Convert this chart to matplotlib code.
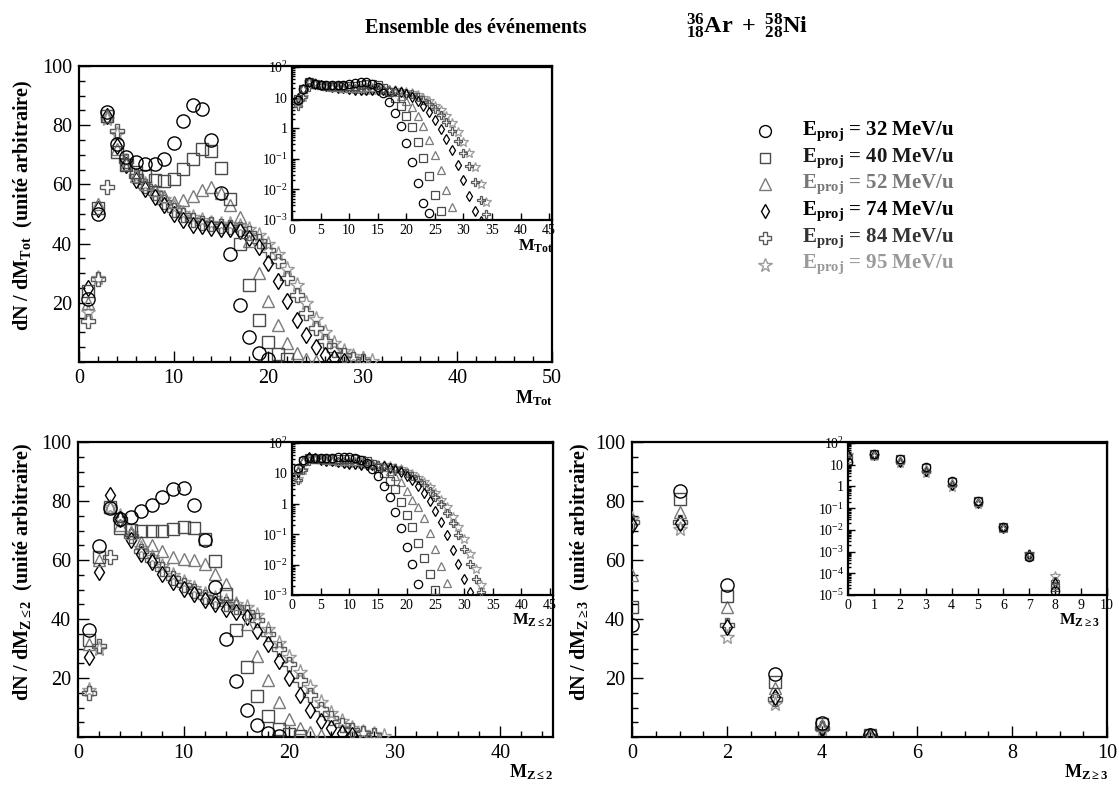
import matplotlib
matplotlib.use("Agg")
import matplotlib.pyplot as plt
from matplotlib.lines import Line2D
from matplotlib.ticker import MultipleLocator, FixedLocator, FixedFormatter, LogLocator, NullFormatter
import numpy as np

plt.rcParams['font.family'] = ['Liberation Serif', 'DejaVu Serif']
plt.rcParams['mathtext.fontset'] = 'custom'
plt.rcParams['mathtext.rm'] = 'Liberation Serif'
plt.rcParams['mathtext.bf'] = 'Liberation Serif:bold'
plt.rcParams['mathtext.it'] = 'Liberation Serif:italic'

# ---------------- data ----------------
energies = ["32", "40", "52", "74", "84", "95"]

# Panel 1 : M_Tot (M = 1, 2, ...)
tot_32 = [21.3, 50.0, 84.4, 73.6, 69.3, 67.7, 66.8, 66.8, 68.5, 74.1, 81.4, 86.8, 85.4, 75.1, 57.1, 36.4,
          19.4, 8.3, 3.2, 0.85, 0.2, 0.043, 0.0095, 0.0045]
tot_40 = [24, 52, 83, 71, 66.6, 64.1, 62.7, 61.5, 61.0, 61.9, 65.1, 68.6, 71.9, 71.3, 65.5, 55, 39.8, 26.1,
          14.3, 6.7, 2.8, 0.92, 0.28, 0.07, 0.017, 0.0053]
tot_52 = [20, 53.4, 83, 72, 67, 63, 60, 58, 56, 54, 54.6, 56, 58, 59, 57, 53, 49, 41, 30, 20.5, 12.5, 6.5,
          3.0, 1.1, 0.35, 0.11, 0.026, 0.007]
tot_74 = [25, 51.7, 83, 73, 66.6, 61.5, 58.5, 55.9, 53.1, 50, 48, 46.3, 45.8, 45.2, 45, 45, 44.1, 42, 38.7,
          33.4, 27.4, 20.7, 14.3, 9.2, 5.0, 2.5, 1.2, 0.5, 0.17, 0.055, 0.016, 0.005, 0.0025]
tot_84 = [14, 28, 59, 78, 68, 63, 59.5, 57, 54, 51.5, 49.5, 48, 47, 46.5, 46, 45.5, 45, 43.5, 41, 38, 34,
          28.5, 22.5, 16.5, 11.5, 7.2, 4.2, 2.2, 1.0, 0.42, 0.15, 0.045, 0.012, 0.004]
tot_95 = [17, 28.5, 82, 77, 68, 63, 60, 57.5, 55, 52.5, 50.5, 49, 48, 47, 46.5, 46.5, 46, 45, 43, 40, 36.5,
          31.5, 26, 20, 14.5, 10, 6.5, 3.8, 2.0, 0.95, 0.4, 0.14, 0.04, 0.01]

# Panel 2 : M_{Z<=2} (M = 1, 2, ...)
z2_32 = [36.2, 64.6, 77.7, 74, 74.6, 76.5, 78.5, 81.4, 84.2, 84.4, 78.5, 66.9, 50.8, 33.3, 19, 9, 4, 1.3,
         0.37, 0.088, 0.024, 0.0055]
z2_40 = [33, 61, 78, 71, 70.3, 70, 69.8, 70, 70.4, 71.2, 71, 67.2, 59.7, 48.6, 36.2, 23.7, 13.8, 7.2, 2.8,
         1.0, 0.4, 0.12, 0.04, 0.012, 0.0035]
z2_52 = [31.6, 60, 78, 72, 69, 66, 65, 63, 61, 60.5, 60.1, 58.8, 55.4, 52, 45.2, 38.4, 27.5, 19.2, 12, 6.2,
         3.2, 1.8, 0.8, 0.27, 0.08, 0.022, 0.006]
z2_74 = [27.1, 55.9, 81.9, 74, 66.9, 61.9, 59.3, 55.4, 52.5, 50.3, 48.4, 46.3, 45.2, 43.5, 42.4, 40.7, 36.1,
         31.5, 25.8, 20, 14.1, 9.2, 5.5, 2.9, 1.4, 0.6, 0.22, 0.07, 0.025, 0.008, 0.003]
z2_84 = [15, 31, 61, 74, 68, 63, 60, 57, 54, 51.5, 49.5, 47.5, 46, 45, 44, 42.5, 39.5, 35, 30, 24.9, 19.4,
         14.1, 9.6, 6.5, 4, 2.3, 1.2, 0.55, 0.22, 0.08, 0.025, 0.008, 0.003]
z2_95 = [16, 30, 78, 75, 69, 64, 61, 58, 55, 52.5, 50.5, 48.5, 47, 46, 45, 44, 41.5, 36.5, 32, 27, 22, 17,
         12, 8.3, 5.3, 3.2, 1.8, 0.9, 0.4, 0.16, 0.055, 0.017, 0.005]

# Panel 3 : M_{Z>=3} (M = 0, 1, ...)
z3_32 = [38, 83.5, 51.5, 21.5, 4.8, 0.6, 0.036, 0.0016, 0.00004]
z3_40 = [44, 80.8, 47.7, 18.6, 4.3, 0.55, 0.035, 0.0017, 0.00006]
z3_52 = [55, 76.3, 44.1, 16.5, 3.9, 0.5, 0.034, 0.0018, 0.00008]
z3_74 = [72, 72.5, 37.3, 13.6, 3.2, 0.45, 0.032, 0.0019, 0.0001]
z3_84 = [73, 73, 37.8, 13, 3.1, 0.45, 0.033, 0.002, 0.00012]
z3_95 = [74, 70.6, 34, 11.3, 2.6, 0.42, 0.034, 0.0022, 0.0002]

# scale between main-panel units and inset units
inset_scale = [0.38, 0.42, 0.37]
# smallest value drawn in the linear main panels
main_ymin = 0.3

# ---------------- styles ----------------
markers = ['o', 's', '^', 'd', 'P', '*']
colors = ['#000000', '#4a4a4a', '#7a7a7a', '#000000', '#5a5a5a', '#9a9a9a']
text_colors = ['#000000', '#1a1a1a', '#777777', '#000000', '#333333', '#999999']
msize_main = [9.5, 8.5, 9.0, 8.0, 9.5, 11.0]
msize_in = [6.0, 5.5, 5.8, 5.5, 6.0, 7.0]

W, H = 1119, 792
fig = plt.figure(figsize=(W / 100, H / 100), dpi=100)


def box(l, t, r, b):
    return [l / W, 1 - b / H, (r - l) / W, (b - t) / H]


def style_axes(ax, labelsize, major_len, minor_len, lw=1.6):
    for s in ax.spines.values():
        s.set_linewidth(lw)
    ax.tick_params(which='both', direction='in', top=False, right=False, width=1.0)
    ax.tick_params(which='major', length=major_len, labelsize=labelsize, pad=5)
    ax.tick_params(which='minor', length=minor_len)


def draw_main(ax, xs_list, ys_list, xlim, xmajor, xminor):
    for i, (xs, ys) in enumerate(zip(xs_list, ys_list)):
        xs = np.asarray(xs)
        ys = np.asarray(ys)
        keep = ys >= main_ymin
        ax.plot(xs[keep], ys[keep], linestyle='none', marker=markers[i], mfc='none', mec=colors[i],
                ms=msize_main[i], mew=1.0, zorder=3 + (5 - i) * 0.1)
    ax.set_xlim(*xlim)
    ax.set_ylim(0, 100)
    ax.xaxis.set_major_locator(MultipleLocator(xmajor))
    ax.xaxis.set_minor_locator(MultipleLocator(xminor))
    ax.yaxis.set_major_locator(FixedLocator([20, 40, 60, 80, 100]))
    ax.yaxis.set_minor_locator(MultipleLocator(5))
    style_axes(ax, 14.5, 8, 4)


def draw_inset(ax, xs_list, ys_list, scale, xlim, ylow, xmajor):
    ax.set_facecolor('white')
    for i, (xs, ys) in enumerate(zip(xs_list, ys_list)):
        ax.plot(xs, np.asarray(ys) * scale, linestyle='none', marker=markers[i], mfc='none',
                mec=colors[i], ms=msize_in[i], mew=0.9, zorder=3 + (5 - i) * 0.1)
    ax.set_yscale('log')
    ax.set_xlim(*xlim)
    ax.set_ylim(10.0 ** ylow, 100)
    exps = list(range(ylow, 3))
    labs = []
    for e in exps:
        if e == 0:
            labs.append('1')
        elif e == 1:
            labs.append('10')
        else:
            labs.append(r'$\mathregular{10^{%d}}$' % e)
    ax.yaxis.set_major_locator(FixedLocator([10.0 ** e for e in exps]))
    ax.yaxis.set_major_formatter(FixedFormatter(labs))
    ax.yaxis.set_minor_locator(LogLocator(base=10, subs=np.arange(2, 10), numticks=20))
    ax.yaxis.set_minor_formatter(NullFormatter())
    ax.xaxis.set_major_locator(MultipleLocator(xmajor))
    style_axes(ax, 10, 5, 2.5, lw=1.6)
    ax.tick_params(which='major', pad=3)


series_tot = [tot_32, tot_40, tot_52, tot_74, tot_84, tot_95]
series_z2 = [z2_32, z2_40, z2_52, z2_74, z2_84, z2_95]
series_z3 = [z3_32, z3_40, z3_52, z3_74, z3_84, z3_95]
x_tot = [np.arange(1, len(s) + 1) for s in series_tot]
x_z2 = [np.arange(1, len(s) + 1) for s in series_z2]
x_z3 = [np.arange(0, len(s)) for s in series_z3]

# ---- panel 1
ax1 = fig.add_axes(box(79, 66, 552, 362))
draw_main(ax1, x_tot, series_tot, (0, 50), 10, 2)
ax1i = fig.add_axes(box(292, 67, 552, 220))
draw_inset(ax1i, x_tot, series_tot, inset_scale[0], (0, 45.5), -3, 5)

# ---- panel 2
ax2 = fig.add_axes(box(78, 442, 553, 737))
draw_main(ax2, x_z2, series_z2, (0, 45), 10, 2)
ax2i = fig.add_axes(box(292, 443, 553, 595))
draw_inset(ax2i, x_z2, series_z2, inset_scale[1], (0, 45.5), -3, 5)

# ---- panel 3
ax3 = fig.add_axes(box(632, 442, 1107, 737))
draw_main(ax3, x_z3, series_z3, (0, 10), 2, 0.5)
ax3i = fig.add_axes(box(848, 443, 1107, 595))
draw_inset(ax3i, x_z3, series_z3, inset_scale[2], (0, 10), -5, 1)

# ---- axis labels
ylab_kw = dict(rotation=90, ha='center', va='center', fontsize=14.5, fontweight='bold')
fig.text(23 / W, 1 - 205 / H, r'dN / dM$_{\mathbf{Tot}}$  (unité arbitraire)', **ylab_kw)
fig.text(23 / W, 1 - 572 / H, r'dN / dM$_{\mathbf{Z\leq2}}$  (unité arbitraire)', **ylab_kw)
fig.text(580 / W, 1 - 572 / H, r'dN / dM$_{\mathbf{Z\geq3}}$  (unité arbitraire)', **ylab_kw)

xlab_kw = dict(ha='right', va='top', fontsize=13, fontweight='bold')
fig.text(553 / W, 1 - 388 / H, r'M$_{\mathbf{Tot}}$', **xlab_kw)
fig.text(553 / W, 1 - 762 / H, r'M$_{\mathbf{Z\leq2}}$', **xlab_kw)
fig.text(1108 / W, 1 - 762 / H, r'M$_{\mathbf{Z\geq3}}$', **xlab_kw)

xlab_in = dict(ha='right', va='top', fontsize=12, fontweight='bold')
fig.text(553 / W, 1 - 238 / H, r'M$_{\mathbf{Tot}}$', **xlab_in)
fig.text(553 / W, 1 - 612 / H, r'M$_{\mathbf{Z\leq2}}$', **xlab_in)
fig.text(1100 / W, 1 - 612 / H, r'M$_{\mathbf{Z\geq3}}$', **xlab_in)

# ---- title
fig.text(365 / W, 1 - 33 / H, 'Ensemble des événements', ha='left', va='baseline',
         fontsize=14.5, fontweight='bold')
fig.text(686 / W, 1 - 33 / H, r'$\mathbf{{}^{36}_{18}Ar\ +\ {}^{58}_{28}Ni}$', ha='left', va='baseline',
         fontsize=17.5)

# ---- legend
leg_mx = 765
leg_tx = 802
for i, e in enumerate(energies):
    yb = 135 + 26.7 * i
    ym = 131 + 26.7 * i
    fig.add_artist(Line2D([leg_mx / W], [1 - ym / H], transform=fig.transFigure, linestyle='none',
                          marker=markers[i], mfc='none', mec=colors[i], ms=msize_main[i] * 0.9, mew=1.0))
    fig.text(leg_tx / W, 1 - yb / H, r'E$_{\mathbf{proj}}$ = %s MeV/u' % e, ha='left', va='baseline',
             fontsize=15, fontweight='bold', color=text_colors[i])

fig.savefig('out.png', dpi=100)
